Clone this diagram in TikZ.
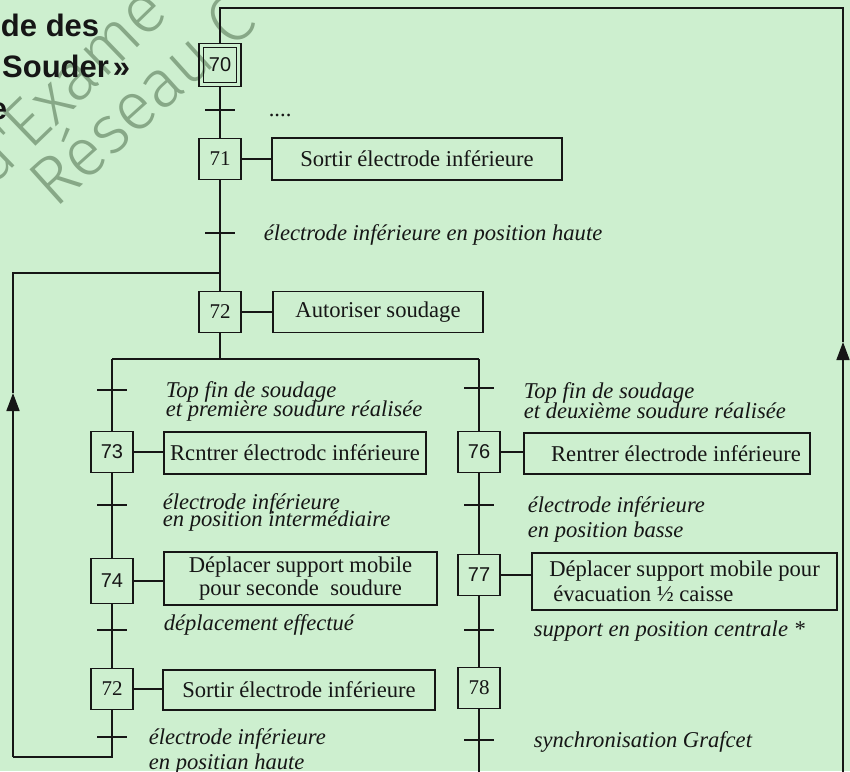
\documentclass[tikz,border=0pt]{standalone}
\usepackage{fontspec}
\setmainfont{Liberation Serif}
\newfontfamily\sansdig{Liberation Sans}
\newfontfamily\wmfont{Fira Sans Light}
\usetikzlibrary{arrows.meta}
\definecolor{bg}{RGB}{205,239,207}
\definecolor{ink}{RGB}{22,22,22}
\definecolor{wm}{RGB}{135,168,135}
\newcommand\grtick[1]{\draw[transbar] ([xshift=-15pt]#1) -- ([xshift=15pt]#1);}
\begin{document}
\begin{tikzpicture}[x=1pt,y=-1pt,
  line width=1.6pt,
  color=ink,
  stepbox/.style={draw=ink,line width=1.4pt,minimum width=42pt,minimum height=41pt,inner sep=0pt,text=ink},
  serifnum/.style={font=\fontsize{21}{21}\selectfont},
  sansnum/.style={font=\sansdig\fontsize{20}{20}\selectfont},
  actbox/.style={draw=ink,line width=1.4pt,inner sep=0pt,text=ink,font=\fontsize{22.6}{24}\selectfont},
  transbar/.style={line width=2.8pt},
  lab/.style={anchor=base west,inner sep=0pt,text=ink,font=\fontsize{22.6}{24}\selectfont\itshape},
  titletext/.style={inner sep=0pt,text=ink,font=\sansdig\bfseries\fontsize{31}{32}\selectfont},
  wmark/.style={inner sep=0pt,text=wm,font=\wmfont\fontsize{68}{68}\selectfont},
  looparrow/.style={-{Triangle[length=18pt,width=13pt]}}
]
\useasboundingbox (0,0) rectangle (850,771);
\clip (0,0) rectangle (850,771);
\fill[bg] (0,0) rectangle (850,771);

% watermark
\node[wmark,rotate=44] (wm1) at (64,84) {d'Exame};
\node[wmark,rotate=42] (wm2) at (140,98) {Réseau C};

% title (cut at left edge)
\node[titletext,anchor=base east] (ti1) at (100,36) {de des};
\node[titletext,anchor=base east] (ti2) at (131,77) {Souder\hspace{4pt}»};
\node[titletext,anchor=base west] (ti3) at (-11,119) {e};

% steps
\node[stepbox,sansnum,minimum width=42pt,minimum height=43pt] (s70) at (220,65) {70};
\draw[line width=1.2pt] ([shift={(5,5)}]s70.north west) rectangle ([shift={(-5,-5)}]s70.south east);
\node[stepbox,serifnum] (s71) at (220,159) {71};
\node[stepbox,serifnum] (s72) at (220,312) {72};
\node[stepbox,sansnum] (s73) at (112,452) {73};
\node[stepbox,sansnum,minimum height=45pt] (s74) at (112,581) {74};
\node[stepbox,serifnum] (s72b) at (112,689) {72};
\node[stepbox,sansnum] (s76) at (479,452) {76};
\node[stepbox,sansnum] (s77) at (479,575) {77};
\node[stepbox,serifnum] (s78) at (479,688) {78};

% actions
\node[actbox,minimum width=290pt,minimum height=42pt] (a71) at (417,159) {Sortir électrode inférieure};
\node[actbox,minimum width=210pt,minimum height=41pt] (a72) at (378,312) {Autoriser soudage};
\node[actbox,minimum width=262pt,minimum height=42pt] (a73) at (295,453) {Rcntrer électrodc inférieure};
\node[actbox,minimum width=273pt,minimum height=53pt,align=center,font=\fontsize{22.6}{23}\selectfont] (a74) at (300.5,578.5) {Déplacer support mobile\\pour seconde~ soudure};
\node[actbox,minimum width=272pt,minimum height=40pt] (a72b) at (299,690) {Sortir électrode inférieure};
\node[actbox,minimum width=286pt,minimum height=41pt] (a76) at (667,453.5) {\hspace*{18pt}Rentrer électrode inférieure};
\node[actbox,minimum width=305pt,minimum height=57pt,align=left,font=\fontsize{22.6}{25}\selectfont] (a77) at (684.5,581.5) {Déplacer support mobile pour\\\hspace*{4pt}évacuation ½ caisse};

% step-action links
\draw (s71.east) -- (s71.east -| a71.west);
\draw (s72.east) -- (s72.east -| a72.west);
\draw (s73.east) -- (s73.east -| a73.west);
\draw (s74.east) -- (s74.east -| a74.west);
\draw (s72b.east) -- (s72b.east -| a72b.west);
\draw (s76.east) -- (s76.east -| a76.west);
\draw (s77.east) -- (s77.east -| a77.west);

% coordinates
\coordinate (t70) at (220,110);
\coordinate (t71) at (220,233);
\coordinate (tl1) at (112,390);
\coordinate (tr1) at (479,388);
\coordinate (tl2) at (112,505);
\coordinate (tr2) at (479,505);
\coordinate (tl3) at (112,630);
\coordinate (tr3) at (479,630);
\coordinate (tl4) at (112,737);
\coordinate (tr4) at (479,740);
\coordinate (jn) at (220,273);
\coordinate (dv) at (220,359);
\coordinate (dl) at (112,359);
\coordinate (dr) at (479,359);
\coordinate (lt) at (13,273);
\coordinate (lb) at (13,757);
\coordinate (bb) at (112,757);
\coordinate (arrL) at (13,393);
\coordinate (rbot) at (479,776);
\coordinate (rb) at (843,776);
\coordinate (arrR) at (843,342);
\coordinate (rt) at (843,8);
\coordinate (mt) at (220,8);

% main sequence
\draw (s70.south) -- (s71.north);
\draw (s71.south) -- (s72.north);
\draw (s72.south) -- (dv);
\draw (dl) -- (dr);
\draw (dl) -- (s73.north);
\draw (s73.south) -- (s74.north);
\draw (s74.south) -- (s72b.north);
\draw (dr) -- (s76.north);
\draw (s76.south) -- (s77.north);
\draw (s77.south) -- (s78.north);
\draw (s78.south) -- (rbot);

% left loop back to 72
\draw (s72b.south) -- (bb) -- (lb);
\draw[looparrow] (lb) -- (arrL);
\draw (arrL) -- (lt) -- (jn);

% right loop back to 70
\draw[looparrow] (rb) -- (arrR);
\draw (arrR) -- (rt) -- (mt) -- (s70.north);

% transitions
\grtick{t70}
\grtick{t71}
\grtick{tl1}
\grtick{tr1}
\grtick{tl2}
\grtick{tr2}
\grtick{tl3}
\grtick{tr3}
\grtick{tl4}
\grtick{tr4}

% receptivities
\node[lab,font=\fontsize{22.6}{24}\selectfont] (l70) at (268,116) {....};
\node[lab] (l71) at (263,240) {électrode inférieure en position haute};
\node[lab] (ll1a) at (165,397) {Top fin de soudage};
\node[lab] (ll1b) at (165,416) {et première soudure réalisée};
\node[lab] (lr1a) at (523,398) {Top fin de soudage};
\node[lab] (lr1b) at (523,418) {et deuxième soudure réalisée};
\node[lab] (ll2a) at (162,509) {électrode inférieure};
\node[lab] (ll2b) at (162,526) {en position intermédiaire};
\node[lab] (lr2a) at (527,512) {électrode inférieure};
\node[lab] (lr2b) at (527,537) {en position basse};
\node[lab] (ll3) at (163,630) {déplacement effectué};
\node[lab] (lr3) at (533,636) {support en position centrale *};
\node[lab] (ll4a) at (148,744) {électrode inférieure};
\node[lab] (ll4b) at (148,769) {en positian haute};
\node[lab] (lr4) at (533,747) {synchronisation Grafcet};
\end{tikzpicture}
\end{document}
